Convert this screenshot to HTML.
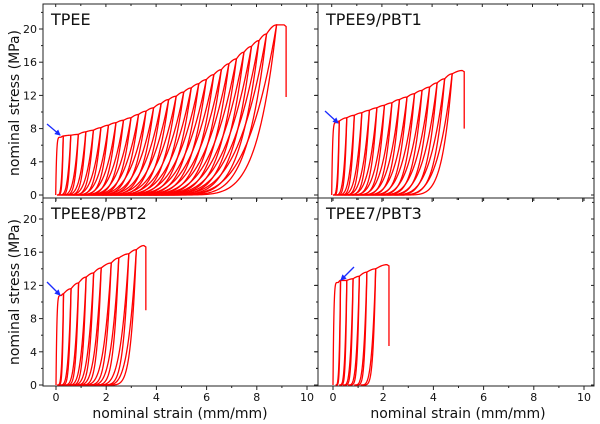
<!DOCTYPE html>
<html><head><meta charset="utf-8">
<style>
html,body{margin:0;padding:0;background:#fff;}
svg{display:block;font-family:"DejaVu Sans","Liberation Sans",sans-serif;}
</style></head>
<body>
<svg id="chart" width="600" height="424" viewBox="0 0 600 424"></svg>
<script>
// ---- data ----
const panelNames = ["TPEE", "TPEE9/PBT1", "TPEE8/PBT2", "TPEE7/PBT3"];
const xTicks = [0, 2, 4, 6, 8, 10];
const yTicks = [0, 4, 8, 12, 16, 20];
// TPEE
const tpeePeakStrain = [0.3,0.6,0.9,1.2,1.5,1.8,2.1,2.4,2.7,3.0,3.3,3.6,3.9,4.2,4.5,4.8,5.1,5.4,5.7,6.0,6.3,6.6,6.9,7.2,7.5,7.8,8.1,8.4,8.8,9.1];
const tpeePeakStress = [7.1,7.2,7.3,7.6,7.8,8.1,8.4,8.7,9.0,9.3,9.7,10.1,10.5,11.0,11.5,11.9,12.4,12.9,13.4,13.9,14.5,15.1,15.8,16.4,17.2,17.9,18.6,19.4,20.5,20.5];
const tpeeResidual = [0.05,0.12,0.2,0.3,0.4,0.5,0.6,0.7,0.8,0.9,1.0,1.1,1.25,1.4,1.55,1.7,1.85,2.0,2.15,2.3,2.5,2.7,2.9,3.1,3.3,3.5,3.7,3.9,4.2];
const tpeeFinal = 11.8;
// TPEE9/PBT1
const p91PeakStrain = [0.3,0.6,0.9,1.2,1.5,1.8,2.1,2.4,2.7,3.0,3.3,3.6,3.9,4.2,4.5,4.8,5.2];
const p91PeakStress = [8.9,9.3,9.6,9.9,10.2,10.5,10.8,11.1,11.5,11.8,12.2,12.6,13.0,13.5,14.0,14.6,15.0];
const p91Residual = [0.05,0.12,0.2,0.3,0.4,0.5,0.65,0.8,0.95,1.1,1.3,1.5,1.7,1.95,2.2,2.5];
const p91Final = 8.0;
// TPEE8/PBT2
const p82PeakStrain = [0.3,0.6,0.9,1.2,1.5,1.8,2.2,2.5,2.9,3.2,3.5];
const p82PeakStress = [11.0,11.6,12.3,13.0,13.5,14.1,14.7,15.3,15.8,16.3,16.8];
const p82Residual = [0.05,0.15,0.3,0.45,0.6,0.8,1.0,1.3,1.6,1.9];
const p82Final = 9.0;
// TPEE7/PBT3
const p73PeakStrain = [0.3,0.55,0.8,1.05,1.35,1.7,2.15];
const p73PeakStress = [12.6,12.6,12.8,13.1,13.6,14.0,14.5];
const p73Residual = [0.1,0.25,0.4,0.6,0.85,1.1];
const p73Final = 4.7;

const NS = "http://www.w3.org/2000/svg";
const svg = document.getElementById("chart");
function mk(tag, attrs, parent){ const e=document.createElementNS(NS,tag); for(const k in attrs) e.setAttribute(k,attrs[k]); (parent||svg).appendChild(e); return e; }

const panels = [
 {x0:43,x1:318,y0:4,y1:198,zeroX:55.7,zeroY:195,yl:true,xl:false,ps:tpeePeakStrain,pst:tpeePeakStress,res:tpeeResidual,fin:tpeeFinal,arrow:[47,124,60,135]},
 {x0:318,x1:594,y0:4,y1:198,zeroX:331.7,zeroY:195,yl:false,xl:false,ps:p91PeakStrain,pst:p91PeakStress,res:p91Residual,fin:p91Final,arrow:[325,111,338,123]},
 {x0:43,x1:318,y0:198,y1:386,zeroX:56,zeroY:385,yl:true,xl:true,ps:p82PeakStrain,pst:p82PeakStress,res:p82Residual,fin:p82Final,arrow:[47,282,60,295]},
 {x0:318,x1:594,y0:198,y1:386,zeroX:333,zeroY:385,yl:false,xl:true,ps:p73PeakStrain,pst:p73PeakStress,res:p73Residual,fin:p73Final,arrow:[354,267,341,280]}
];
const PXX = 25.1, PXY = 8.3;

panels.forEach((p,pi)=>{
  const g = mk("g",{});
  
  
  const sx = v => p.zeroX + v*PXX;
  const sy = v => p.zeroY - v*PXY;
  const frame = mk("rect",{x:p.x0,y:p.y0,width:p.x1-p.x0,height:p.y1-p.y0,fill:"none",stroke:"#222","stroke-width":1},g);
  
  
  for(let v=0; v<=10; v++){
    const major = v%2===0;
    mk("line",{x1:sx(v),x2:sx(v),y1:p.y1,y2:p.y1+(major?4:2),stroke:"#222"},g);
    mk("line",{x1:sx(v),x2:sx(v),y1:p.y0,y2:p.y0+(major?3:2),stroke:"#222"},g);
  }
  if(p.xl){
    xTicks.forEach(v=>{
      const t = mk("text",{x:sx(v),y:p.y1+15,"text-anchor":"middle","font-size":11,fill:"#111"},g);
      t.textContent = v;
      
      
    });
  }
  for(let v=0; v<=22; v+=2){
    const yy = sy(v); if(yy < p.y0) continue;
    const major = v%4===0;
    mk("line",{x1:p.x0,x2:p.x0-(major?4:2),y1:yy,y2:yy,stroke:"#222"},g);
    mk("line",{x1:p.x1,x2:p.x1-(major?3:2),y1:yy,y2:yy,stroke:"#222"},g);
  }
  if(p.yl){
    yTicks.forEach(v=>{
      const t = mk("text",{x:p.x0-6,y:sy(v)+4,"text-anchor":"end","font-size":11,fill:"#111"},g);
      t.textContent = v;
      
      
    });
  }
  const title = mk("text",{x:p.x0+8,y:p.y0+21,"font-size":16,fill:"#111"},g);
  title.textContent = panelNames[pi];
  
  

  const N = p.ps.length;
  const seg = (f, n) => { let s=""; for(let k=0;k<=n;k++){ const t=k/n; const [x,y]=f(t); s+="L"+sx(x).toFixed(2)+","+sy(y).toFixed(2);} return s; };
  for(let i=0;i<N;i++){
    const pe=p.ps[i], pst=p.pst[i];
    let path="";
    if(i===0){
      const yx=pe*0.7, ys=pst*0.98;
      path += "M"+sx(0)+","+sy(0);
      path += seg(t=>[yx*t, ys*(1-Math.pow(1-t,6))],30);
      path += seg(t=>[yx+(pe-yx)*t, ys+(pst-ys)*Math.sin(t*Math.PI/2)],8);
    } else {
      const r=p.res[i-1], ppe=p.ps[i-1], pps=p.pst[i-1];
      path += "M"+sx(r)+","+sy(0);
      path += seg(t=>{const x=r+(ppe-r)*t; return [x, pps*Math.pow(t,4)];},50);
      path += seg(t=>[ppe+(pe-ppe)*t, pps+(pst-pps)*Math.sin(t*Math.PI/2)],10);
    }
    if(i<N-1){
      const r=p.res[i];
      path += seg(t=>{const x=pe-(pe-r)*t; return [x, pst*Math.pow(1-t,6)];},60);
    } else {
      path += "L"+(sx(pe)+2).toFixed(2)+","+sy(pst*0.99).toFixed(2)+"L"+(sx(pe)+2).toFixed(2)+","+sy(p.fin).toFixed(2);
    }
    const c = mk("path",{d:path,fill:"none",stroke:"#f00","stroke-width":1.3},g);
    
    
  }
  const a=p.arrow;
  const ar = mk("line",{x1:a[0],y1:a[1],x2:a[2],y2:a[3],stroke:"#1a2bff","stroke-width":1.3,"marker-end":"url(#ah)"},g);
  
  
});
const defs = mk("defs",{});
const m = mk("marker",{id:"ah",markerWidth:6,markerHeight:6,refX:5,refY:3,orient:"auto",markerUnits:"userSpaceOnUse"},defs);
mk("path",{d:"M0,0L6,3L0,6Z",fill:"#1a2bff"},m);

const yt1 = mk("text",{x:0,y:0,"font-size":14,"text-anchor":"middle",fill:"#111",transform:"translate(19,103) rotate(-90)"});
yt1.textContent="nominal stress (MPa)";


const yt2 = mk("text",{x:0,y:0,"font-size":14,"text-anchor":"middle",fill:"#111",transform:"translate(19,292) rotate(-90)"});
yt2.textContent="nominal stress (MPa)";


const xt1 = mk("text",{x:180,y:418,"font-size":14,"text-anchor":"middle",fill:"#111"});
xt1.textContent="nominal strain (mm/mm)";


const xt2 = mk("text",{x:458,y:418,"font-size":14,"text-anchor":"middle",fill:"#111"});
xt2.textContent="nominal strain (mm/mm)";


</script>
</body></html>
